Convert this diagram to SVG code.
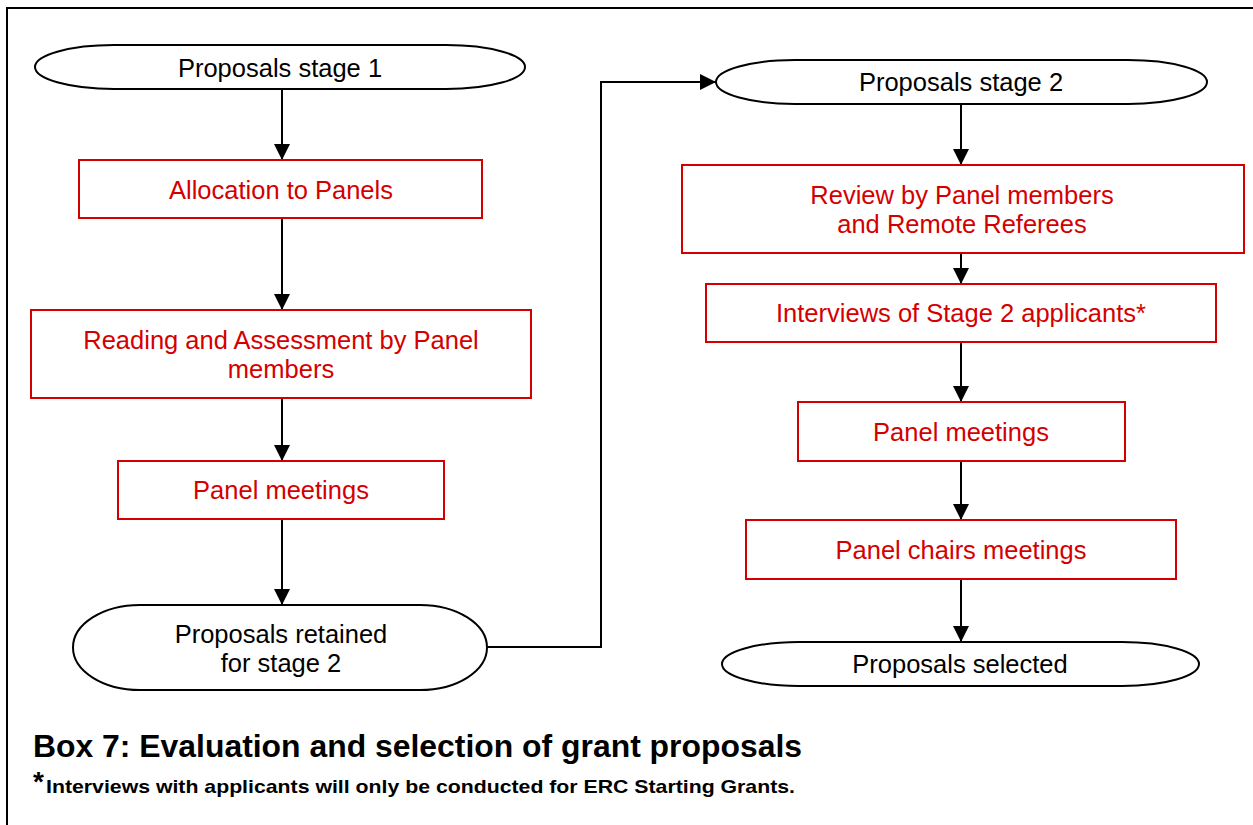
<svg xmlns="http://www.w3.org/2000/svg" width="1253" height="825" viewBox="0 0 1253 825">
<style>
.term{fill:#fff;stroke:#000;stroke-width:2}
.box{fill:#fff;stroke:#d40000;stroke-width:2}
.tb{font-family:"Liberation Sans",Arial,sans-serif;font-size:25.5px;fill:#000;text-anchor:middle}
.tr{font-family:"Liberation Sans",Arial,sans-serif;font-size:25.5px;fill:#d40000;text-anchor:middle}
.conn{fill:none;stroke:#000;stroke-width:2}
</style>
<defs>
<marker id="ah" viewBox="0 0 10 10" refX="10" refY="5" markerWidth="8" markerHeight="8" markerUnits="strokeWidth" orient="auto">
<path d="M0,0 L10,5 L0,10 z" fill="#000"/>
</marker>
</defs>
<rect x="0" y="0" width="1253" height="825" fill="#fff"/>
<rect x="7" y="8" width="1270" height="840" fill="none" stroke="#000" stroke-width="2"/>

<g id="connectors">
<line class="conn" x1="282" y1="89" x2="282" y2="160" marker-end="url(#ah)"/>
<line class="conn" x1="282" y1="218" x2="282" y2="310" marker-end="url(#ah)"/>
<line class="conn" x1="282" y1="398" x2="282" y2="461" marker-end="url(#ah)"/>
<line class="conn" x1="282" y1="519" x2="282" y2="605" marker-end="url(#ah)"/>
<polyline class="conn" points="487,647 601,647 601,82 716,82" marker-end="url(#ah)"/>
<line class="conn" x1="961" y1="104" x2="961" y2="165" marker-end="url(#ah)"/>
<line class="conn" x1="961" y1="253" x2="961" y2="284" marker-end="url(#ah)"/>
<line class="conn" x1="961" y1="342" x2="961" y2="402" marker-end="url(#ah)"/>
<line class="conn" x1="961" y1="461" x2="961" y2="520" marker-end="url(#ah)"/>
<line class="conn" x1="961" y1="579" x2="961" y2="642" marker-end="url(#ah)"/>
</g>

<g id="stage1">
<path class="term" d="M114,45 H446 A79,22 0 0 1 446,89 H114 A79,22 0 0 1 114,45 Z"/>
<text class="tb" x="280" y="77">Proposals stage 1</text>
</g>
<g id="allocation">
<rect class="box" x="79" y="160" width="403" height="58"/>
<text class="tr" x="281" y="199">Allocation to Panels</text>
</g>
<g id="reading">
<rect class="box" x="31" y="310" width="500" height="88"/>
<text class="tr" x="281" y="349">Reading and Assessment by Panel</text>
<text class="tr" x="281" y="378">members</text>
</g>
<g id="panel1">
<rect class="box" x="118" y="461" width="326" height="58"/>
<text class="tr" x="281" y="499">Panel meetings</text>
</g>
<g id="retained">
<path class="term" d="M140,605 H420 A67,42.5 0 0 1 420,690 H140 A67,42.5 0 0 1 140,605 Z"/>
<text class="tb" x="281" y="643">Proposals retained</text>
<text class="tb" x="281" y="672">for stage 2</text>
</g>
<g id="stage2">
<path class="term" d="M795,60 H1128 A79,22 0 0 1 1128,104 H795 A79,22 0 0 1 795,60 Z"/>
<text class="tb" x="961" y="91">Proposals stage 2</text>
</g>
<g id="review">
<rect class="box" x="682" y="165" width="562" height="88"/>
<text class="tr" x="962" y="204">Review by Panel members</text>
<text class="tr" x="962" y="233">and Remote Referees</text>
</g>
<g id="interviews">
<rect class="box" x="706" y="284" width="510" height="58"/>
<text class="tr" x="961" y="322">Interviews of Stage 2 applicants*</text>
</g>
<g id="panel2">
<rect class="box" x="798" y="402" width="327" height="59"/>
<text class="tr" x="961" y="441">Panel meetings</text>
</g>
<g id="chairs">
<rect class="box" x="746" y="520" width="430" height="59"/>
<text class="tr" x="961" y="559">Panel chairs meetings</text>
</g>
<g id="selected">
<path class="term" d="M799,642 H1122 A77,22 0 0 1 1122,686 H799 A77,22 0 0 1 799,642 Z"/>
<text class="tb" x="960" y="673">Proposals selected</text>
</g>

<g id="caption">
<text x="33" y="757" font-family="Liberation Sans,Arial,sans-serif" font-weight="bold" font-size="31" fill="#000" textLength="769" lengthAdjust="spacingAndGlyphs">Box 7: Evaluation and selection of grant proposals</text>
<text x="33" y="793" font-family="Liberation Sans,Arial,sans-serif" font-weight="bold" font-size="28" fill="#000" dy="-2">*</text>
<text x="46" y="793" font-family="Liberation Sans,Arial,sans-serif" font-weight="bold" font-size="19" fill="#000" textLength="749" lengthAdjust="spacingAndGlyphs">Interviews with applicants will only be conducted for ERC Starting Grants.</text>
</g>
</svg>
